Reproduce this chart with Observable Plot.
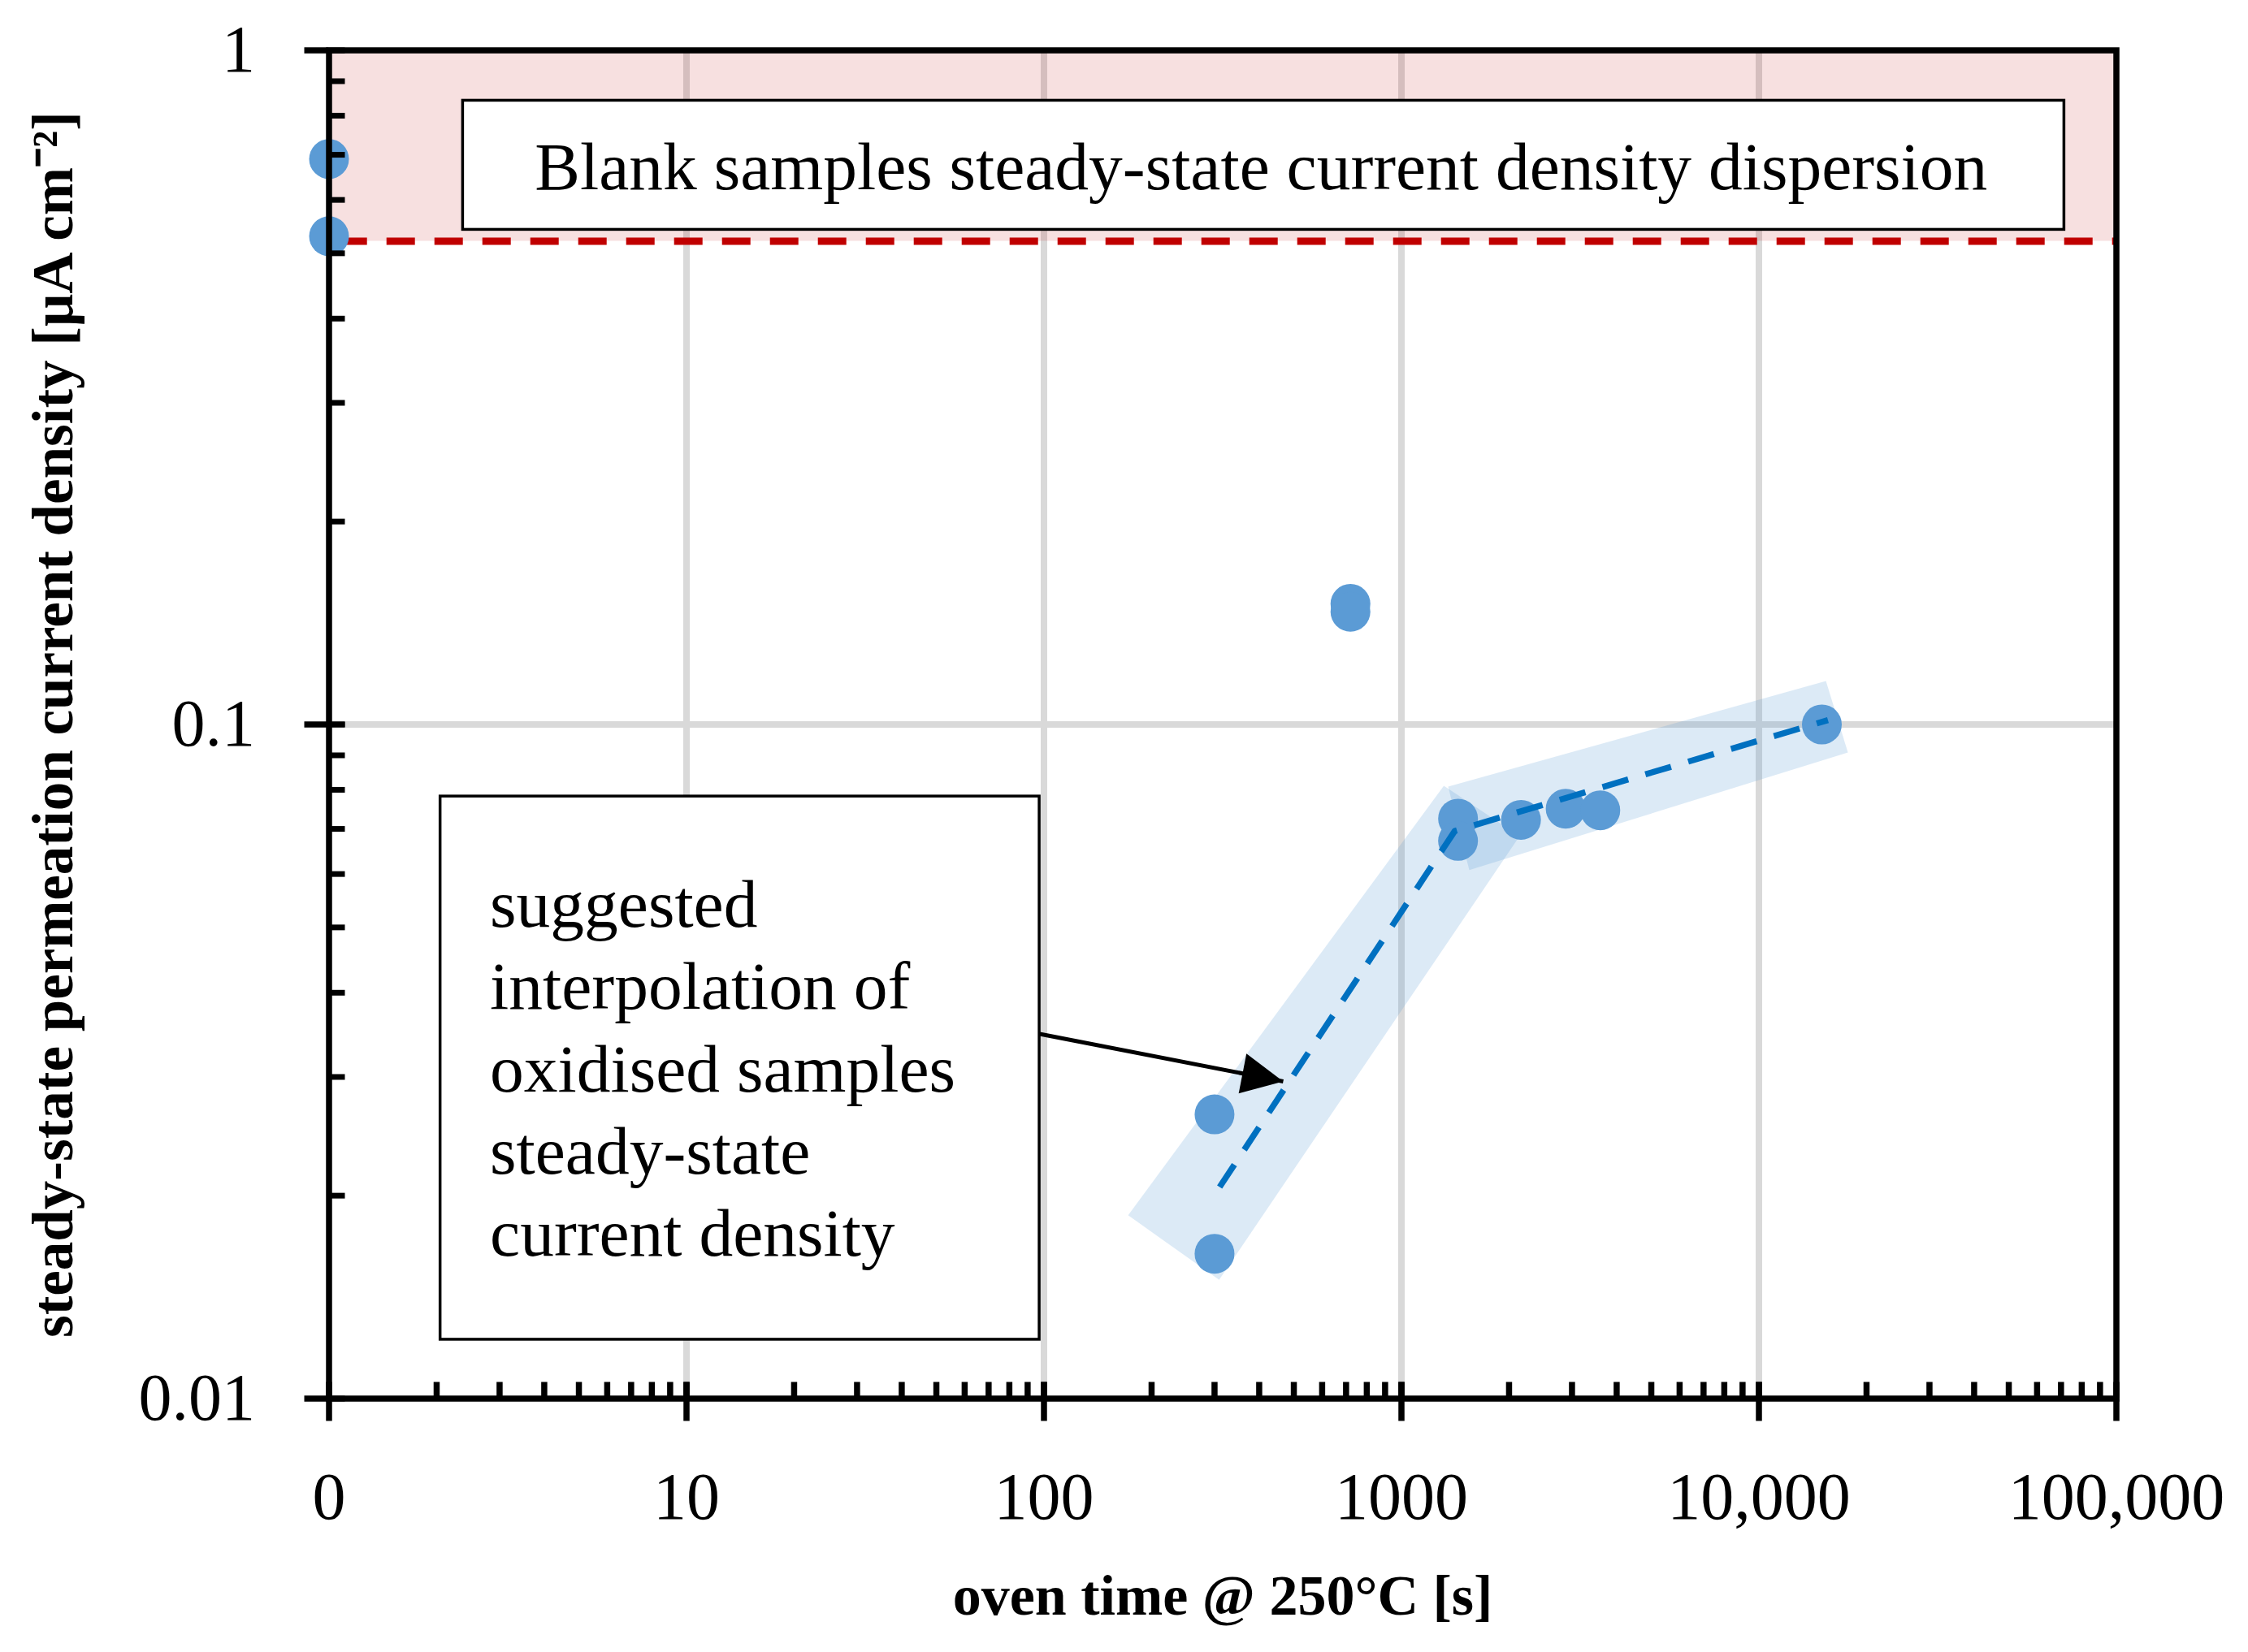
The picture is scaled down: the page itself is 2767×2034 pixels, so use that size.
<!DOCTYPE html>
<html>
<head>
<meta charset="utf-8">
<script src="https://cdn.jsdelivr.net/npm/d3@7"></script>
<script src="https://cdn.jsdelivr.net/npm/@observablehq/plot@0.6"></script>
<style>
  html, body { margin: 0; padding: 0; background: #fff; overflow: hidden; }
</style>
</head>
<body>
<div id="chart"></div>
<script>
// ---- measured data (oven time in s, 0 = blank sample drawn at the axis origin) ----
const times    = [0,    0,    300,    300,    720,   720,   1440,   1440,   2160,   2880,   3600,   15000];
const currents = [0.69, 0.53, 0.0264, 0.0164, 0.151, 0.147, 0.0725, 0.0672, 0.0722, 0.0750, 0.0746, 0.100];

// suggested interpolation (dashed blue line)
const interpTimes    = [310,    1410,   15600];
const interpCurrents = [0.0206, 0.0695, 0.1015];

// shaded bands around the interpolation (corner points, data units)
const bandIds      = ["a", "a", "a", "a", "b", "b", "b", "b"];
const bandTimes    = [172,    309,    2140,   1314,   1351,   15400,  17740,  1548];
const bandCurrents = [0.0187, 0.0150, 0.0683, 0.0811, 0.0809, 0.1160, 0.0909, 0.0608];

// blank samples dispersion band
const blankLow = 0.521;
const blankHigh = 1;

// axes
const xMajor = [1, 10, 100, 1000, 10000, 100000];
const xTickLabels = ["0", "10", "100", "1000", "10,000", "100,000"];
const yMajor = [0.01, 0.1, 1];
const yTickLabels = ["0.01", "0.1", "1"];
const xGrid = [10, 100, 1000, 10000];
const yGrid = [0.1];
const xMinor = d3.range(0, 5).flatMap(e => d3.range(1, 11).map(k => k * 10 ** e));
const yMinor = d3.range(-2, 0).flatMap(e => d3.range(1, 11).map(k => +(k * 10 ** e).toPrecision(3)));

// texts
const xLabel = "oven time @ 250°C [s]";
const yLabel = "steady-state permeation current density [μA cm⁻²]";
const blankText = "Blank samples steady-state current density dispersion";
const interpText = "suggested\ninterpolation of\noxidised samples\nsteady-state\ncurrent density";

// annotation boxes & arrow (data units)
const blankBox  = {x1: 2.37, x2: 71500, y1: 0.5418, y2: 0.8421, tx: 405, ty: 0.6694};
const interpBox = {x1: 2.05, x2: 97.2, y1: 0.01223, y2: 0.0782, tx: 2.82, ty: 0.06117};
const arrowLine = {x1: 97.2, y1: 0.03475, x2: 467, y2: 0.02955};

const xLabelMap = new Map(xMajor.map((d, i) => [d, xTickLabels[i]]));
const yLabelMap = new Map(yMajor.map((d, i) => [d, yTickLabels[i]]));

const points = times.map((t, i) => ({t, x: t === 0 ? 1 : t, y: currents[i]}));
const interp = interpTimes.map((t, i) => ({x: t, y: interpCurrents[i]}));
const bands = bandIds.map((id, i) => ({id, x: bandTimes[i], y: bandCurrents[i]}));

const serif = "'Liberation Serif', 'Times New Roman', serif";

const headMarker = (color) => d3.create("svg:marker")
  .attr("viewBox", "-52 -26 52 52")
  .attr("markerUnits", "userSpaceOnUse")
  .attr("markerWidth", 52)
  .attr("markerHeight", 52)
  .attr("refX", 0)
  .attr("refY", 0)
  .attr("orient", "auto")
  .attr("fill", color)
  .attr("stroke", "none")
  .call(m => m.append("path").attr("d", "M0,0L-51,-25L-51,25Z"))
  .node();

function build(marker) {
  return Plot.plot({
    width: 2767,
    height: 2034,
    marginLeft: 404.5,
    marginRight: 162.5,
    marginTop: 61.5,
    marginBottom: 312.5,
    style: {fontFamily: serif, background: "white", color: "black", overflow: "visible"},
    x: {type: "log", domain: [1, 100000]},
    y: {type: "log", domain: [0.01, 1]},
    marks: [
      // grid
      Plot.ruleX(xGrid, {stroke: "#d9d9d9", strokeWidth: 8}),
      Plot.ruleY(yGrid, {stroke: "#d9d9d9", strokeWidth: 8}),
      // blank dispersion band
      Plot.rect([{x1: 1, x2: 100000, y1: blankLow, y2: blankHigh}], {
        x1: "x1", x2: "x2", y1: "y1", y2: "y2", fill: "#c00000", fillOpacity: 0.12
      }),
      // shaded interpolation bands
      Plot.line(bands, {x: "x", y: "y", z: "id", fill: "#5b9bd5", fillOpacity: 0.21, stroke: "none"}),
      // annotation boxes
      Plot.rect([blankBox], {x1: "x1", x2: "x2", y1: "y1", y2: "y2", fill: "white", stroke: "black", strokeWidth: 3.5}),
      Plot.rect([interpBox], {x1: "x1", x2: "x2", y1: "y1", y2: "y2", fill: "white", stroke: "black", strokeWidth: 3.5}),
      Plot.text([blankText], {x: () => blankBox.tx, y: () => blankBox.ty, text: d => d,
        fontSize: 83.5, textAnchor: "middle", fill: "black", fontFamily: serif}),
      Plot.text([interpText], {x: () => interpBox.tx, y: () => interpBox.ty, text: d => d,
        fontSize: 83.5, textAnchor: "start", lineAnchor: "top", lineHeight: 1.213, fill: "black", fontFamily: serif}),
      // blank threshold dashed line
      Plot.ruleY([blankLow], {x1: 1.066, x2: 100000, stroke: "#c00000", strokeWidth: 9, strokeDasharray: "35,24"}),
      // measurements
      Plot.dot(points, {x: "x", y: "y", r: 24.5, fill: "#5b9bd5", stroke: "none"}),
      // interpolation line
      Plot.line(interp, {x: "x", y: "y", stroke: "#0070c0", strokeWidth: 7.5, strokeDasharray: "33,22", strokeLinecap: "butt"}),
      // arrow
      Plot.link([arrowLine], {x1: "x1", y1: "y1", x2: "x2", y2: "y2", stroke: "black", strokeWidth: 5, markerEnd: marker}),
      // inward minor ticks
      Plot.axisX({ticks: xMinor, tickSize: -20, strokeWidth: 7.5, fill: "none", label: null, anchor: "bottom"}),
      Plot.axisY({ticks: yMinor, tickSize: -20, strokeWidth: 7, fill: "none", label: null, anchor: "left"}),
      // major axes
      Plot.axisX({ticks: xMajor, tickFormat: d => xLabelMap.get(d), tickSize: 28, tickPadding: 62,
        strokeWidth: 7.5, fontSize: 82, fontFamily: serif, label: null, anchor: "bottom"}),
      Plot.axisY({ticks: yMajor, tickFormat: d => yLabelMap.get(d), tickSize: 30, tickPadding: 61,
        strokeWidth: 7.5, fontSize: 82, fontFamily: serif, label: null, anchor: "left"}),
      Plot.frame({stroke: "black", strokeWidth: 7.5}),
      // axis titles
      Plot.text([xLabel], {frameAnchor: "bottom", dy: 266, text: d => d, fontSize: 70, fontWeight: "bold",
        fontFamily: serif, fill: "black", textAnchor: "middle"}),
      Plot.text([yLabel], {frameAnchor: "left", dx: -339, rotate: -90, text: d => d, fontSize: 71, fontWeight: "bold",
        fontFamily: serif, fill: "black", textAnchor: "middle"})
    ]
  });
}

let chart;
try {
  chart = build(headMarker);
} catch (e) {
  chart = build("arrow");
}
document.getElementById("chart").appendChild(chart);
</script>
</body>
</html>
